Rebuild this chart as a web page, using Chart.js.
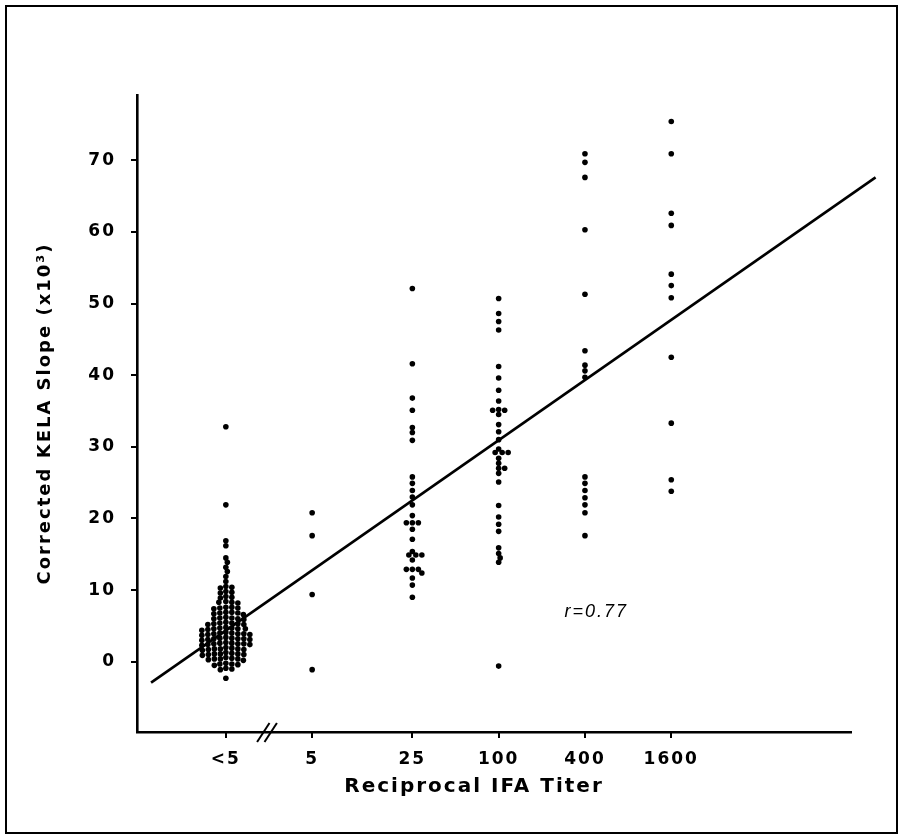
<!DOCTYPE html>
<html><head><meta charset="utf-8">
<script src="https://cdn.jsdelivr.net/npm/chart.js@4.4.0/dist/chart.umd.min.js"></script>
<style>html,body{margin:0;padding:0;background:#fff;}canvas{display:block;}</style>
</head><body>
<canvas id="c" width="904" height="838"></canvas>
<script>
// ---- data ----
const categories = ['<5', '5', '25', '100', '400', '1600'];
const titerValues = [1.25, 5, 25, 100, 400, 1600]; // "<5" plotted at a nominal titer left of the axis break
const yTicks = [0, 10, 20, 30, 40, 50, 60, 70];

const groupLt5 = [32.8, 21.9, 16.9, 16.2, 14.5, 13.9, 13.2, 12.6, 11.9, 11.2,
  10.5, 10.4, 10.3,
  9.8, 9.7, 9.6,
  9.0, 8.9, 9.1,
  8.3, 8.2, 8.4, 8.3,
  7.6, 7.5, 7.4, 7.6, 7.5,
  6.8, 6.9, 6.7, 6.8, 6.6, 6.9,
  6.1, 6.0, 6.2, 5.9, 6.0, 6.1,
  5.3, 5.4, 5.2, 5.3, 5.5, 5.2, 5.4,
  4.6, 4.7, 4.5, 4.6, 4.8, 4.4, 4.6, 4.7,
  3.9, 4.0, 3.8, 3.9, 4.1, 3.7, 3.9, 4.0, 3.8,
  3.2, 3.1, 3.3, 3.2, 3.0, 3.4, 3.2, 3.1, 3.3,
  2.5, 2.4, 2.6, 2.5, 2.3, 2.7, 2.5, 2.4, 2.6,
  1.8, 1.7, 1.9, 1.8, 1.6, 2.0, 1.8, 1.7,
  1.1, 1.0, 1.2, 1.1, 0.9, 1.3, 1.1, 1.0,
  0.4, 0.3, 0.5, 0.4, 0.2, 0.6, 0.4,
  -0.3, -0.4, -0.2, -0.3, -0.5,
  -1.0, -1.1, -0.9,
  -2.3];
const group5 = [20.8, 17.6, 9.4, -1.1];
const group25 = [52.1, 41.6, 36.8, 35.1, 32.7, 32.0, 30.9, 25.8, 24.9, 23.9, 23.0, 21.9,
  20.4, 19.4, 19.4, 19.4, 18.5, 17.1, 15.4, 14.9, 14.9, 14.9, 14.2, 12.9, 12.9, 12.9,
  12.4, 11.7, 10.7, 9.0];
const group100 = [50.7, 48.6, 47.5, 46.3, 41.2, 39.6, 37.9, 36.4, 35.2, 35.1, 35.1, 34.5,
  33.1, 32.1, 31.0, 29.7, 29.2, 29.2, 29.2, 28.4, 27.7, 27.0, 27.0, 26.3, 25.1, 21.8,
  20.2, 19.2, 18.2, 15.9, 15.1, 14.5, 13.9, -0.6];
const group400 = [70.9, 69.7, 67.6, 60.3, 51.3, 43.4, 41.4, 40.6, 39.7, 25.8, 24.9, 23.9,
  22.9, 21.9, 20.8, 17.6];
const group1600 = [75.4, 70.9, 62.6, 60.9, 54.1, 52.5, 50.8, 42.5, 33.3, 25.4, 23.8];

const regressionX = [0.376, 42600];
const regressionY = [-2.9, 67.6];
const rText = 'r=0.77';
const rAt = [288, 7.0];
const xTitle = 'Reciprocal IFA Titer';
const yTitle = 'Corrected KELA Slope (x10\u00B3)';

// ---- build chart ----
const groups = [groupLt5, group5, group25, group100, group400, group1600];
const points = [];
const refs = [];
groups.forEach((vals, gi) => vals.forEach((v, k) => {
  refs.push([gi, k]);
  points.push({ x: titerValues[gi], y: v });
}));

const tickFont = { family: 'DejaVu Sans', size: 17, weight: 'bold' };

const decor = {
  id: 'decor',
  beforeDraw(c) { c.ctx.letterSpacing = '2px'; },
  afterDraw(c) {
    const { ctx, chartArea: a, scales: { x, y } } = c;
    ctx.save();
    ctx.fillStyle = '#000';
    ctx.strokeStyle = '#000';
    // outer frame
    ctx.lineWidth = 2;
    ctx.strokeRect(6, 6, 891, 827);
    // tick marks (outward)
    ctx.lineWidth = 2;
    y.ticks.forEach(t => {
      const py = Math.round(y.getPixelForValue(t.value));
      ctx.beginPath(); ctx.moveTo(a.left - 6, py); ctx.lineTo(a.left, py); ctx.stroke();
    });
    x.ticks.forEach(t => {
      const px = Math.round(x.getPixelForValue(t.value));
      ctx.beginPath(); ctx.moveTo(px, a.bottom); ctx.lineTo(px, a.bottom + 6); ctx.stroke();
    });
    // axis break mark
    const bx = x.getPixelForValue(Math.sqrt(titerValues[0] * titerValues[1])) - 2;
    [-3.7, 3.7].forEach(o => {
      ctx.beginPath();
      ctx.moveTo(bx + o - 6.2, a.bottom + 10);
      ctx.lineTo(bx + o + 6.2, a.bottom - 9);
      ctx.stroke();
    });
    // y title
    ctx.font = 'bold 18px "DejaVu Sans"';
    ctx.textAlign = 'center';
    ctx.textBaseline = 'middle';
    ctx.save();
    ctx.translate(45, (a.top + a.bottom) / 2);
    ctx.rotate(-Math.PI / 2);
    ctx.fillText(yTitle, 0, 0);
    ctx.restore();
    // x title
    ctx.font = 'bold 20px "DejaVu Sans"';
    ctx.fillText(xTitle, a.left + 337, a.bottom + 55);
    // r annotation
    ctx.font = 'italic 18px "Liberation Sans"';
    ctx.textAlign = 'left';
    ctx.fillText(rText, x.getPixelForValue(rAt[0]), y.getPixelForValue(rAt[1]));
    ctx.restore();
  }
};

const chart = new Chart(document.getElementById('c'), {
  type: 'scatter',
  data: {
    datasets: [
      {
        type: 'line',
        data: regressionX.map((x, i) => ({ x, y: regressionY[i] })),
        borderColor: '#000', borderWidth: 2.6, pointRadius: 0, clip: false, order: 1, tension: 0
      },
      {
        data: points,
        pointRadius: 2.8, pointBorderWidth: 0,
        backgroundColor: '#000', borderColor: '#000', pointBackgroundColor: '#000', order: 0
      }
    ]
  },
  options: {
    responsive: false, animation: false, devicePixelRatio: 1,
    layout: { padding: { top: 95, right: 53, left: 0, bottom: 0 } },
    plugins: { legend: { display: false }, tooltip: { enabled: false } },
    scales: {
      x: {
        type: 'logarithmic', min: 0.321, max: 28700,
        afterBuildTicks: s => { s.ticks = titerValues.map(v => ({ value: v })); },
        afterFit: s => { s.height = 106; },
        ticks: { callback: (v, i) => categories[i], color: '#000', font: tickFont, padding: 9, maxRotation: 0, autoSkip: false },
        grid: { display: false },
        border: { display: true, color: '#000', width: 2.6 }
      },
      y: {
        min: -9.8, max: 79.1,
        afterBuildTicks: s => { s.ticks = yTicks.map(v => ({ value: v })); },
        afterFit: s => { s.width = 137; },
        ticks: { color: '#000', font: tickFont, padding: 13 },
        grid: { display: false },
        border: { display: true, color: '#000', width: 2.6 }
      }
    }
  },
  plugins: [decor]
});

// beeswarm spreading of coincident dots, laid out in pixel space via the chart's scales
(function swarm() {
  const xs = chart.scales.x, ys = chart.scales.y;
  const ds = chart.data.datasets[1].data;
  const ax = 5.6, ay = 4.4;
  groups.forEach((vals, gi) => {
    const base = xs.getPixelForValue(titerValues[gi]);
    const placed = [];
    const order = vals.map((v, k) => k).sort((a, b) => vals[b] - vals[a]);
    order.forEach(k => {
      const py = ys.getPixelForValue(vals[k]);
      let off = 0;
      for (let s = 0; s < 400; s++) {
        const cand = s === 0 ? 0 : (s % 2 ? 1 : -1) * Math.ceil(s / 2) * 0.5;
        const ok = placed.every(p => {
          const dx = (p[0] - (base + cand)) / ax, dy = (p[1] - py) / ay;
          return dx * dx + dy * dy >= 1;
        });
        if (ok) { off = cand; break; }
      }
      placed.push([base + off, py]);
      const idx = refs.findIndex(r => r[0] === gi && r[1] === k);
      ds[idx].x = xs.getValueForPixel(base + off);
    });
  });
  chart.update('none');
})();
</script>
</body></html>
